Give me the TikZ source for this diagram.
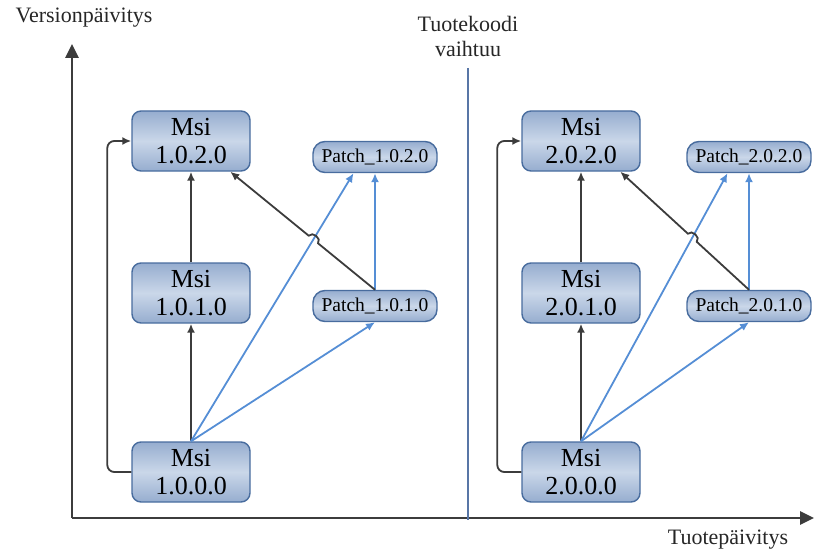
\documentclass[tikz,border=0pt]{standalone}
\usepackage{fontspec}
\setmainfont{Liberation Serif}
\usetikzlibrary{arrows.meta, calc}
\definecolor{boxline}{RGB}{72,108,158}
\definecolor{boxtop}{RGB}{150,173,207}
\definecolor{boxmid}{RGB}{202,215,233}
\definecolor{linkblue}{RGB}{85,142,213}
\definecolor{darkline}{RGB}{60,60,60}
\definecolor{divider}{RGB}{88,118,166}
\tikzset{
    msinode/.style={rectangle, draw=boxline, line width=1.4pt, rounded corners=9pt, top color=boxtop, bottom color=boxtop, middle color=boxmid, minimum width=118pt, minimum height=60pt, inner sep=0pt, align=center, font=\fontsize{26}{28}\selectfont},
    patchnode/.style={rectangle, draw=boxline, line width=1.4pt, rounded corners=12pt, top color=boxtop, bottom color=boxtop, middle color=boxmid, minimum width=124pt, minimum height=31pt, inner sep=0pt, font=\fontsize{19.5}{21}\selectfont},
    axislabel/.style={align=center, font=\fontsize{22}{25}\selectfont, text=black!85},
    axisline/.style={draw=darkline, line width=2.8pt, -{Triangle[length=14pt, width=13pt]}},
    blackline/.style={draw=darkline, line width=1.8pt, ->},
    blueline/.style={draw=linkblue, line width=1.8pt, ->}
}

\begin{document}
\begin{tikzpicture}[x=1pt, y=-1pt, >={Latex[length=9pt, width=8pt]}]
  \useasboundingbox (0,0) rectangle (820,551);
  % axes
  \coordinate (origin) at (72,518);
  \coordinate (ytip) at (72,44);
  \coordinate (xtip) at (814,518);
  \draw[axisline] (origin) -- (ytip);
  \draw[axisline] (origin) -- (xtip);
  \node[axislabel] (ylabel) at (84,18) {Versionpäivitys};
  \node[axislabel] (xlabel) at (728,540) {Tuotepäivitys};
  \node[axislabel] (change) at (468,36) {Tuotekoodi\\vaihtuu};
  \coordinate (divtop) at (468,68);
  \coordinate (divbottom) at (468,520);
  \draw[divider, line width=1.8pt] (divtop) -- (divbottom);

  % first product code
  \node[msinode] (m1020) at (191,141) {Msi\\1.0.2.0};
  \node[msinode] (m1010) at (191,293) {Msi\\1.0.1.0};
  \node[msinode] (m1000) at (191,472) {Msi\\1.0.0.0};
  \node[patchnode] (p1020) at (375,157) {Patch\_1.0.2.0};
  \node[patchnode] (p1010) at (375,306) {Patch\_1.0.1.0};
  \draw[blackline] (m1000) -- (m1010);
  \draw[blackline] (m1010) -- (m1020);
  \draw[blackline, rounded corners=7pt] (m1000.west) -- ++(-24,0) |- (m1020.west);
  \draw[blueline] (m1000.north) -- (p1020.217);
  \draw[blueline] (m1000.north) -- (p1010.south);
  \draw[blueline] (p1010.north) -- (p1020.south);
  \coordinate (x1) at (intersection of p1010.north--m1020.322 and m1000.north--p1020.217);
  \draw[blackline] (p1010.north) -- ($(x1)!6pt!(p1010.north)$)
    to[bend right=90, looseness=1.3] ($(x1)!6pt!(m1020.322)$) -- (m1020.322);

  % second product code
  \node[msinode] (m2020) at (581,141) {Msi\\2.0.2.0};
  \node[msinode] (m2010) at (581,293) {Msi\\2.0.1.0};
  \node[msinode] (m2000) at (581,472) {Msi\\2.0.0.0};
  \node[patchnode] (p2020) at (749,157) {Patch\_2.0.2.0};
  \node[patchnode] (p2010) at (749,306) {Patch\_2.0.1.0};
  \draw[blackline] (m2000) -- (m2010);
  \draw[blackline] (m2010) -- (m2020);
  \draw[blackline, rounded corners=7pt] (m2000.west) -- ++(-24,0) |- (m2020.west);
  \draw[blueline] (m2000.north) -- (p2020.217);
  \draw[blueline] (m2000.north) -- (p2010.south);
  \draw[blueline] (p2010.north) -- (p2020.south);
  \coordinate (x2) at (intersection of p2010.north--m2020.322 and m2000.north--p2020.217);
  \draw[blackline] (p2010.north) -- ($(x2)!6pt!(p2010.north)$)
    to[bend right=90, looseness=1.3] ($(x2)!6pt!(m2020.322)$) -- (m2020.322);
\end{tikzpicture}
\end{document}
